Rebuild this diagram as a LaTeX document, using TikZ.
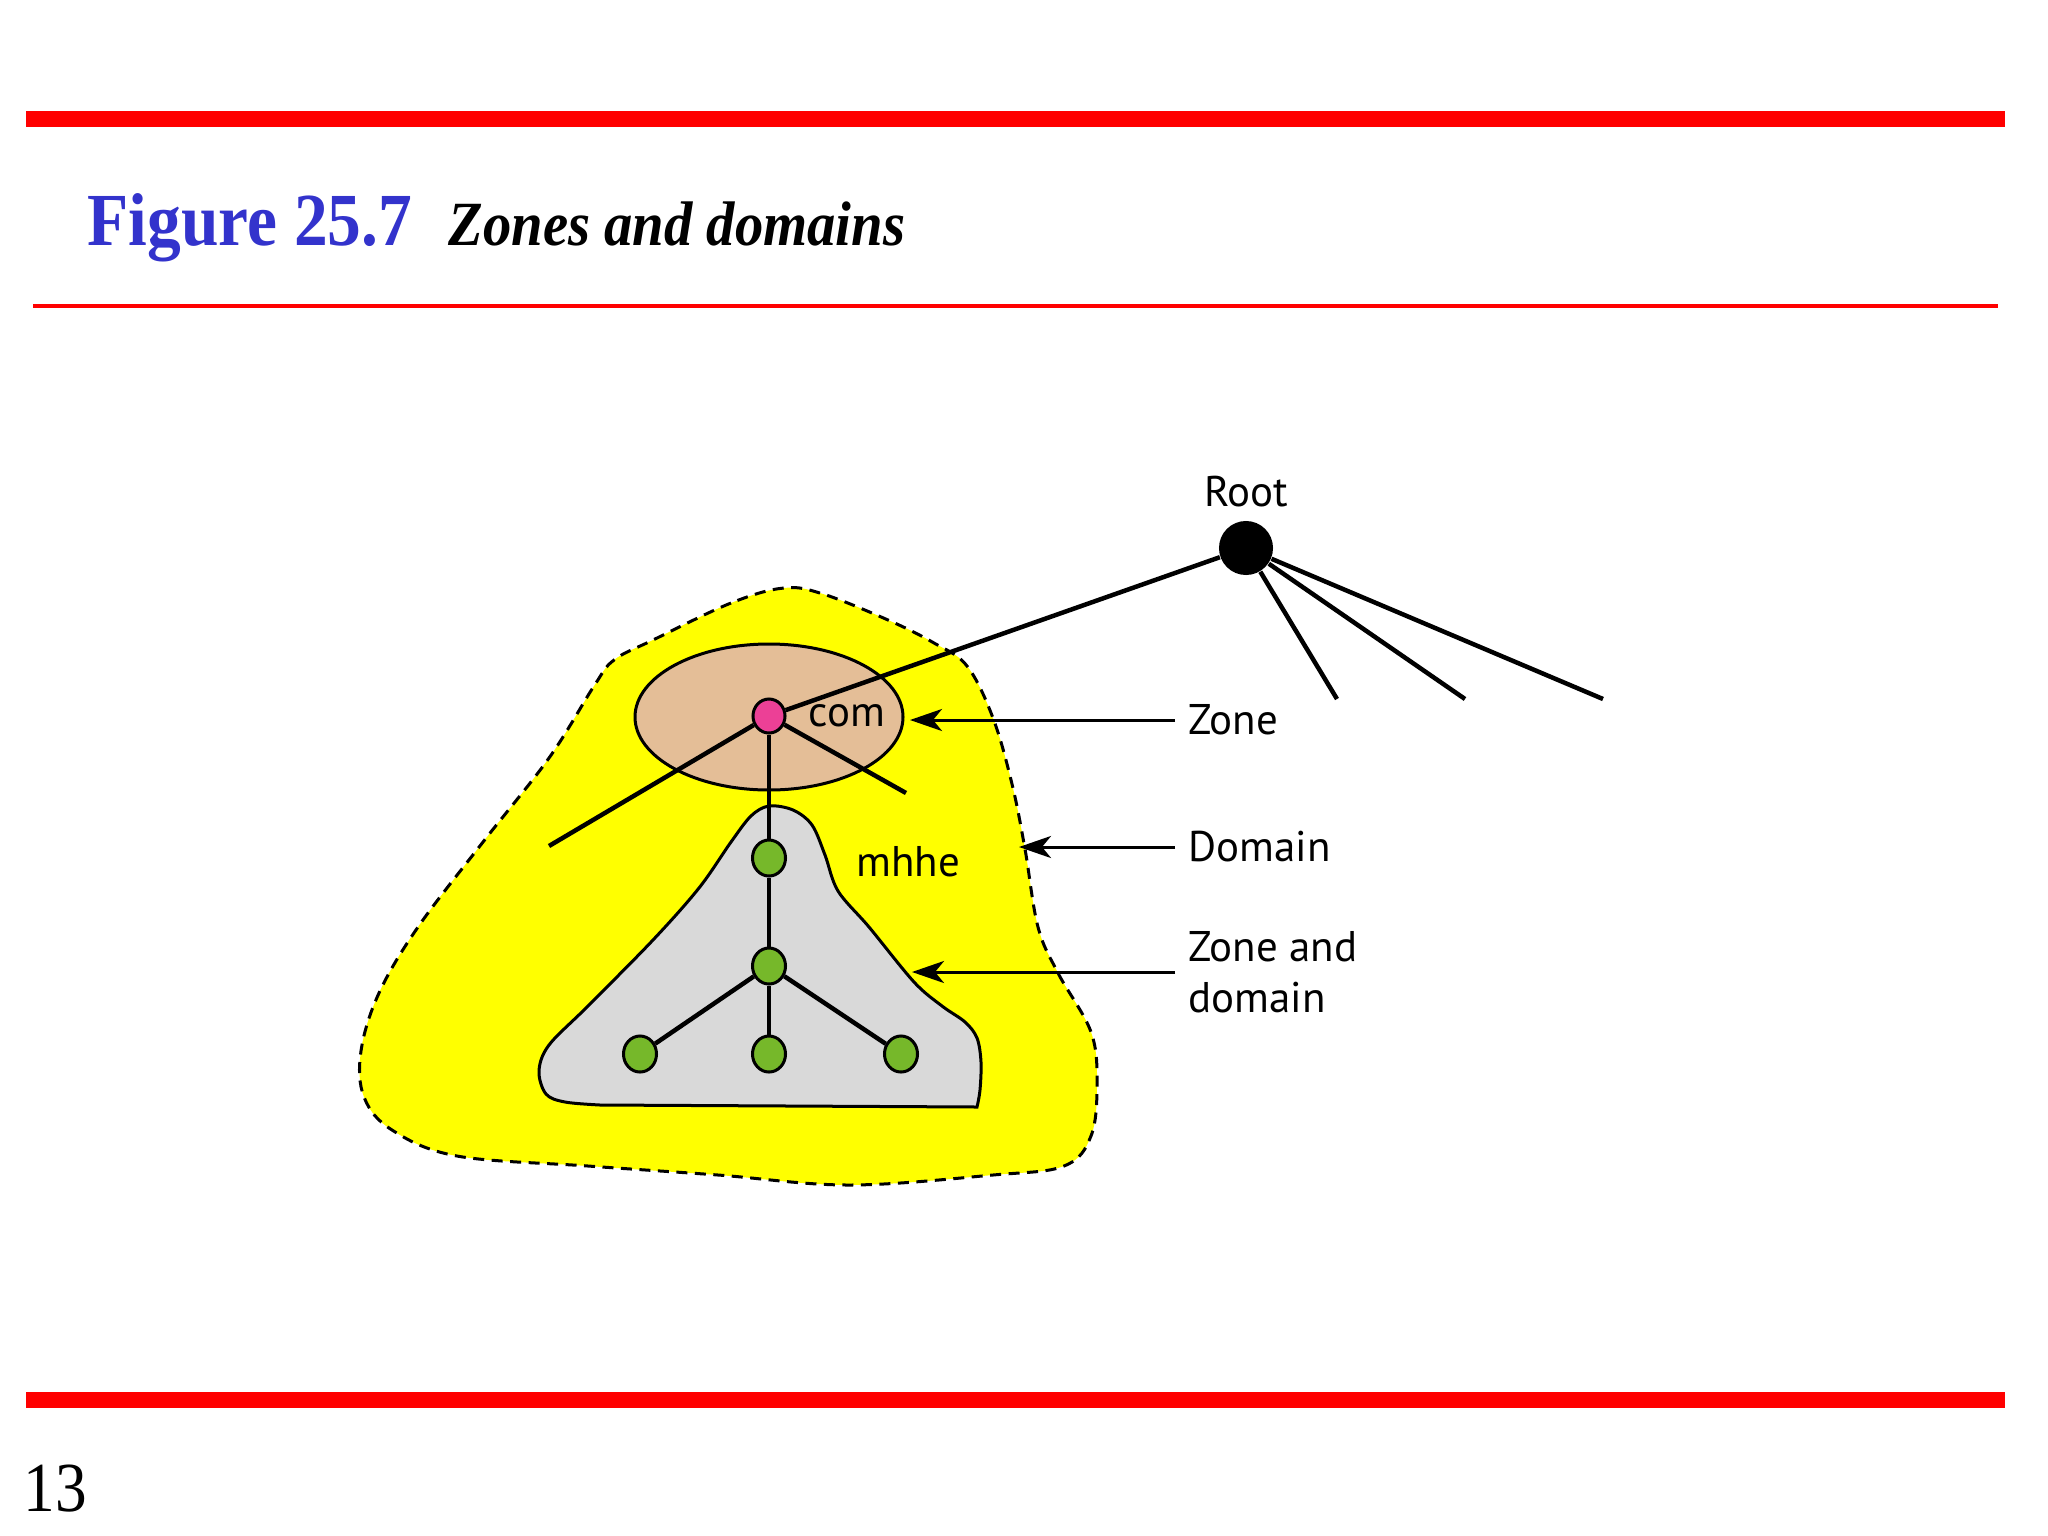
\documentclass[tikz,border=0pt]{standalone}
\usepackage{fontspec}
\setmainfont{Liberation Serif}
\newfontfamily\condserif[FakeStretch=0.9]{Liberation Serif}
\newfontfamily\labelsans{PT Sans}
\usetikzlibrary{arrows.meta,shapes.geometric}
\definecolor{redbar}{RGB}{255,0,0}
\definecolor{titleblue}{RGB}{51,51,204}
\definecolor{blobyellow}{RGB}{255,255,0}
\definecolor{zonetan}{RGB}{228,190,151}
\definecolor{domgray}{RGB}{217,217,217}
\definecolor{nodegreen}{RGB}{118,184,42}
\definecolor{nodepink}{RGB}{236,64,150}
\tikzset{
  tree/.style={line width=0.045cm, black},
  gnode/.style={ellipse, draw=black, line width=0.03cm, fill=nodegreen, minimum width=0.33cm, minimum height=0.36cm, inner sep=0pt},
  pnode/.style={ellipse, draw=black, line width=0.03cm, fill=nodepink, minimum width=0.32cm, minimum height=0.34cm, inner sep=0pt},
  rootnode/.style={circle, fill=black, minimum size=0.54cm, inner sep=0pt},
  lbl/.style={font=\labelsans\fontsize{12.2pt}{14.5pt}\selectfont, inner sep=0pt},
  sidelbl/.style={lbl, anchor=west, align=left, inner xsep=0.13cm},
  arr/.style={line width=0.03cm, -{Stealth[length=0.32cm, width=0.22cm, inset=0.09cm]}},
}
\begin{document}
\begin{tikzpicture}[x=0.01cm,y=-0.01cm]
\useasboundingbox (0,0) rectangle (2048,1536);
% slide frame
\fill[redbar] (26,111) rectangle (2005,127);
\fill[redbar] (33,304) rectangle (1998,308);
\fill[redbar] (26,1392) rectangle (2005,1408);
\node[anchor=base west, inner sep=0pt, text=titleblue, font=\condserif\bfseries\fontsize{21.3pt}{25pt}\selectfont] (fig) at (87,245) {Figure 25.7};
\node[anchor=base west, inner sep=0pt, font=\condserif\bfseries\itshape\fontsize{17.9pt}{21pt}\selectfont] (cap) at (448,245) {Zones and domains};
\node[anchor=base west, inner sep=0pt, font=\condserif\fontsize{20pt}{24pt}\selectfont] (pg) at (23,1511) {13};
% domain blob
\draw[fill=blobyellow, dash pattern=on 0.11cm off 0.075cm, line width=0.03cm]
  plot[smooth cycle, tension=0.6] coordinates {
  (784,588) (731,603) (653,640) (614,660) (594,686) (549,758) (483,842) (418,927)
  (379,993) (361,1051) (364,1097) (392,1130) (457,1156) (588,1166) (718,1175)
  (849,1185) (993,1175) (1064,1166) (1091,1136) (1097,1084) (1091,1032) (1058,973)
  (1038,927) (1025,849) (1012,784) (993,718) (967,666) (934,643) (888,620) (823,594)};
% zone ellipse
\draw[fill=zonetan, line width=0.03cm] (769,717) ellipse [x radius=134, y radius=73];
% zone-and-domain region
\draw[fill=domgray, line width=0.03cm, line join=miter]
  (977,1107) -- (600,1105) -- plot[smooth, tension=0.55] coordinates {
  (600,1105) (565,1102) (546,1094) (539,1071) (549,1045) (588,1006) (653,940)
  (699,888) (731,842) (751,816) (769,806) (793,810) (812,825) (825,855) (838,891)
  (869,927) (914,982) (942,1006) (965,1022) (977,1038) (981,1062) (980,1090) (977,1107)} -- cycle;
% nodes
\node[rootnode] (root) at (1246,548) {};
\node[lbl] (rootlbl) at (1246,492) {Root};
\node[pnode] (com) at (769,716) {};
\node[lbl, anchor=west] (comlbl) at (808,716) {com};
\node[gnode] (m) at (769,858) {};
\node[gnode] (n2) at (769,966) {};
\node[gnode] (l1) at (640,1054) {};
\node[gnode] (l2) at (769,1054) {};
\node[gnode] (l3) at (901,1054) {};
\node[lbl] (mhhe) at (908,862) {mhhe};
% free ends
\coordinate (r1) at (1337,699);
\coordinate (r2) at (1465,699);
\coordinate (r3) at (1603,699);
\coordinate (c1) at (549,846);
\coordinate (c2) at (906,793);
% tree edges
\draw[tree] (root) -- (com);
\draw[tree] (root) -- (r1);
\draw[tree] (root) -- (r2);
\draw[tree] (root) -- (r3);
\draw[tree] (com) -- (c1);
\draw[tree] (com) -- (c2);
\draw[tree] (com) -- (m);
\draw[tree] (m) -- (n2);
\draw[tree] (n2) -- (l1);
\draw[tree] (n2) -- (l2);
\draw[tree] (n2) -- (l3);
% side labels and arrows
\node[sidelbl] (zl) at (1175,720) {Zone};
\node[sidelbl] (dl) at (1175,847) {Domain};
\node[sidelbl] (zdl) at (1175,972) {Zone and\\domain};
\coordinate (tz) at (910,718);
\coordinate (td) at (1019,845);
\coordinate (tzd) at (912,972);
\draw[arr] (zl.west) -- (zl.west -| tz);
\draw[arr] (dl.west) -- (dl.west -| td);
\draw[arr] (zdl.west) -- (zdl.west -| tzd);
\end{tikzpicture}
\end{document}
